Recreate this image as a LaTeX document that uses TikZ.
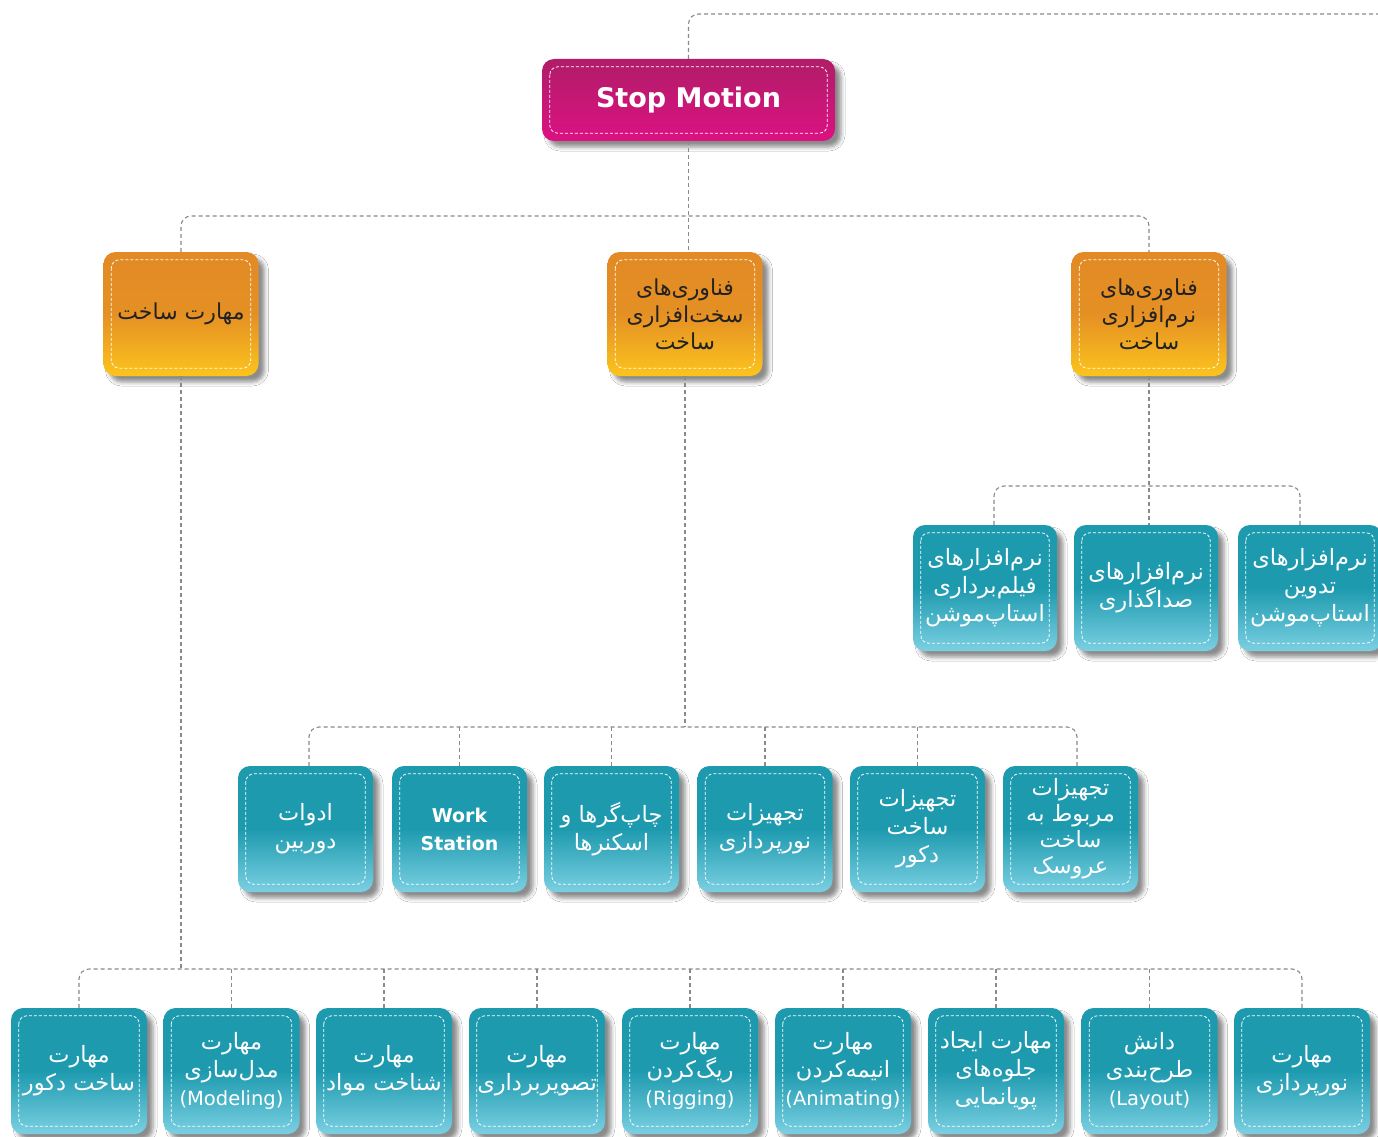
\documentclass[tikz,border=0pt]{standalone}
\usepackage{fontspec}
\usetikzlibrary{shadows.blur,calc}
\TeXXeTstate=1
\newfontfamily\farsi[Script=Arabic]{DejaVu Sans}
\newfontfamily\latinf{DejaVu Sans}
\definecolor{tealD}{HTML}{1E9AAF}
\definecolor{tealL}{HTML}{7BD0E2}
\definecolor{orD}{HTML}{E28A25}
\definecolor{orL}{HTML}{FCC41D}
\definecolor{mgD}{HTML}{B01D68}
\definecolor{mgL}{HTML}{DC1182}
\definecolor{lineg}{HTML}{8A8A8A}
\definecolor{txtd}{HTML}{222222}
\newcommand\RL[1]{\beginR #1\endR}
\newcommand\LT[1]{{\latinf\fontsize{19.5}{24}\selectfont #1}}
\newcommand\bx[5]{%
  \node[#1] (#2) at (#3,-#4) {#5};
  \draw[innerdash] ([xshift=8pt,yshift=-8pt]#2.north west) rectangle ([xshift=-8pt,yshift=8pt]#2.south east);}
\tikzset{
  conn/.style={draw=lineg, line width=1.1pt, dash pattern=on 4pt off 3pt, rounded corners=10pt},
  innerdash/.style={draw=white, line width=0.8pt, dash pattern=on 3pt off 2pt, rounded corners=8pt},
  basebox/.style={rounded corners=12pt, inner sep=0pt, align=center,
    blur shadow={shadow xshift=6pt, shadow yshift=-6pt, shadow blur radius=4pt, shadow opacity=45}},
  magbox/.style={basebox, top color=mgD, bottom color=mgL, minimum width=293pt, minimum height=82pt,
    text=white, font=\latinf\bfseries\fontsize{27}{32}\selectfont},
  orbox/.style={basebox, top color=orD, bottom color=orL, middle color=orD!90!orL,
    minimum width=155pt, minimum height=124pt, text=txtd, font=\farsi\fontsize{22}{27}\selectfont},
  tealbox/.style={basebox, top color=tealD, bottom color=tealL, middle color=tealD,
    minimum height=126pt, text=white, font=\farsi\fontsize{22.5}{28}\selectfont},
  tA/.style={tealbox, minimum width=144pt},
  tB/.style={tealbox, minimum width=135pt},
  tC/.style={tealbox, minimum width=136pt},
  tight/.style={font=\farsi\fontsize{22.5}{26}\selectfont}
}
\begin{document}
\begin{tikzpicture}[x=1pt,y=1pt]
\useasboundingbox (0,0) rectangle (1378,-1137);
\fill[white] (0,0) rectangle (1378,-1137);
% top
\bx{magbox}{sm}{688.5}{100}{Stop Motion}
% orange
\bx{orbox}{oa}{181}{314}{\RL{مهارت ساخت}}
\bx{orbox}{ob}{685}{314}{\RL{فناوری‌های}\\\RL{سخت‌افزاری}\\\RL{ساخت}}
\bx{orbox}{oc}{1149}{314}{\RL{فناوری‌های}\\\RL{نرم‌افزاری}\\\RL{ساخت}}
% row 1
\bx{tA}{r1a}{985}{588}{\RL{نرم‌افزارهای}\\\RL{فیلم‌برداری}\\\RL{استاپ‌موشن}}
\bx{tA}{r1b}{1146}{588}{\RL{نرم‌افزارهای}\\\RL{صداگذاری}}
\bx{tA}{r1c}{1310}{588}{\RL{نرم‌افزارهای}\\\RL{تدوین}\\\RL{استاپ‌موشن}}
% row 2
\bx{tB}{m1}{305.5}{829}{\RL{ادوات}\\\RL{دوربین}}
\bx{tB}{m2}{459.5}{829}{{\latinf\bfseries\fontsize{19}{25}\selectfont Work}\\{\latinf\bfseries\fontsize{19}{25}\selectfont Station}}
\bx{tB}{m3}{611.5}{829}{\RL{چاپ‌گرها و}\\\RL{اسکنرها}}
\bx{tB}{m4}{765}{829}{\RL{تجهیزات}\\\RL{نورپردازی}}
\bx{tB}{m5}{917.5}{829}{\RL{تجهیزات}\\\RL{ساخت}\\\RL{دکور}}
\bx{tB,tight}{m6}{1070.5}{829}{\RL{تجهیزات}\\\RL{مربوط به}\\\RL{ساخت}\\\RL{عروسک}}
% row 3
\bx{tC}{b1}{79}{1071}{\RL{مهارت}\\\RL{ساخت دکور}}
\bx{tC}{b2}{231.5}{1071}{\RL{مهارت}\\\RL{مدل‌سازی}\\\LT{(Modeling)}}
\bx{tC}{b3}{384}{1071}{\RL{مهارت}\\\RL{شناخت مواد}}
\bx{tC}{b4}{537}{1071}{\RL{مهارت}\\\RL{تصویربرداری}}
\bx{tC}{b5}{690}{1071}{\RL{مهارت}\\\RL{ریگ‌کردن}\\\LT{(Rigging)}}
\bx{tC}{b6}{843}{1071}{\RL{مهارت}\\\RL{انیمه‌کردن}\\\LT{(Animating)}}
\bx{tC}{b7}{996}{1071}{\RL{مهارت ایجاد}\\\RL{جلوه‌های}\\\RL{پویانمایی}}
\bx{tC}{b8}{1149.5}{1071}{\RL{دانش}\\\RL{طرح‌بندی}\\\LT{(Layout)}}
\bx{tC}{b9}{1302}{1071}{\RL{مهارت}\\\RL{نورپردازی}}
% junctions
\coordinate (j0) at (1378,-14);
\coordinate (j1) at (688,-216);
\coordinate (j2) at (1147,-486);
\coordinate (j3) at (688,-727);
\coordinate (j4) at (181,-969);
% connectors
\draw[conn] (sm.north) |- (j0);
\draw[conn] (sm.south) -- (sm.south |- ob.north);
\draw[conn] (oa.north) |- (j1) -| (oc.north);
\draw[conn] (oc.south) -- (oc.south |- r1b.north);
\draw[conn] ([xshift=9pt]r1a.north) |- (j2) -| ([xshift=-10pt]r1c.north);
\draw[conn] (ob.south) -- (ob.south |- j3);
\draw[conn] ([xshift=3.5pt]m1.north) |- (j3) -| ([xshift=6.5pt]m6.north);
\foreach \n in {m2,m3,m4,m5} \draw[conn] (\n.north) -- (\n.north |- j3);
\draw[conn] (oa.south) -- (oa.south |- j4);
\draw[conn] (b1.north) |- (j4) -| (b9.north);
\foreach \n in {b2,b3,b4,b5,b6,b7,b8} \draw[conn] (\n.north) -- (\n.north |- j4);
\end{tikzpicture}
\end{document}
